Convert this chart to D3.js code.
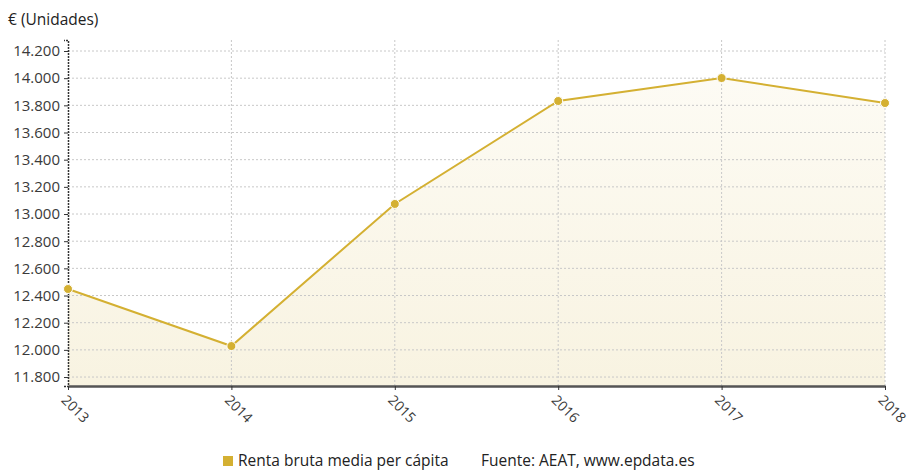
<!DOCTYPE html>
<html><head><meta charset="utf-8">
<script src="https://cdn.jsdelivr.net/npm/d3@7"></script>
<style>
body{margin:0;background:#fff;}
text{font-family:"Open Sans",sans-serif;}
</style></head>
<body><svg id="c" width="912" height="470"></svg>
<script>
const years = ["2013","2014","2015","2016","2017","2018"];
const values = [12448, 12028, 13074, 13832, 14001, 13817];
const yTicks = [11800,12000,12200,12400,12600,12800,13000,13200,13400,13600,13800,14000,14200];
const seriesName = "Renta bruta media per cápita";
const sourceText = "Fuente: AEAT, www.epdata.es";
const unitTitle = "€ (Unidades)";

const svg = d3.select("#c");
const L=68, R=885, T=40, B=386;
const x = d3.scalePoint().domain(years).range([L,R]);
const y = d3.scaleLinear().domain([11734,14281]).range([B,T]);
const color = "#d4b032";

const defs = svg.append("defs");
const g = defs.append("linearGradient").attr("id","ag").attr("x1",0).attr("y1",0).attr("x2",0).attr("y2",1);
g.append("stop").attr("offset","0%").attr("stop-color","#fdfbf4");
g.append("stop").attr("offset","100%").attr("stop-color","#f8f3e1");

svg.append("path").datum(values)
  .attr("d", d3.area().x((d,i)=>x(years[i])).y0(B).y1(d=>y(d)))
  .attr("fill","url(#ag)");

svg.append("g").selectAll("line").data(yTicks).join("line")
  .attr("x1",L).attr("x2",R).attr("y1",d=>y(d)).attr("y2",d=>y(d))
  .attr("stroke","#c8c8c8").attr("stroke-dasharray","2,2").attr("stroke-width",1);
svg.append("g").selectAll("line").data(years.slice(1)).join("line")
  .attr("x1",d=>x(d)).attr("x2",d=>x(d)).attr("y1",T).attr("y2",B)
  .attr("stroke","#c8c8c8").attr("stroke-dasharray","2,2").attr("stroke-width",1);

const ya = svg.append("g").attr("transform",`translate(${L},0)`)
  .call(d3.axisLeft(y).tickValues(yTicks).tickSize(4).tickFormat(d=>d3.format(",.0f")(d).replace(/,/g,".")));
ya.select(".domain").attr("stroke","#333").attr("stroke-width",1.5).attr("stroke-dasharray","2,1");
ya.selectAll(".tick line").attr("stroke","#333");
ya.selectAll(".tick text").attr("fill","#3a3a3a").attr("font-size","15px").attr("x",-8);

const xa = svg.append("g").attr("transform",`translate(0,${B})`)
  .call(d3.axisBottom(x).tickSize(4).tickSizeOuter(0));
xa.select(".domain").attr("stroke","#555").attr("stroke-width",2.5);
xa.selectAll(".tick line").attr("stroke","#333");
xa.selectAll(".tick text").attr("fill","#3a3a3a").attr("font-size","14px")
  .attr("text-anchor","start").attr("dy",0).attr("y",0)
  .attr("transform","translate(-8,15) rotate(45)");

svg.append("path").datum(values)
  .attr("d", d3.line().x((d,i)=>x(years[i])).y(d=>y(d)))
  .attr("fill","none").attr("stroke",color).attr("stroke-width",2);
svg.append("g").selectAll("circle").data(values).join("circle")
  .attr("cx",(d,i)=>x(years[i])).attr("cy",d=>y(d)).attr("r",4.5)
  .attr("fill",color).attr("stroke","#fff").attr("stroke-width",1);

svg.append("text").attr("x",8).attr("y",25).attr("font-size","15.5px").attr("fill","#222").text(unitTitle);

svg.append("rect").attr("x",223).attr("y",456).attr("width",10).attr("height",10).attr("fill",color);
svg.append("text").attr("x",238).attr("y",466).attr("font-size","15.5px").attr("fill","#222").text(seriesName);
svg.append("text").attr("x",481).attr("y",466).attr("font-size","15.5px").attr("fill","#222").text(sourceText);
</script></body></html>
